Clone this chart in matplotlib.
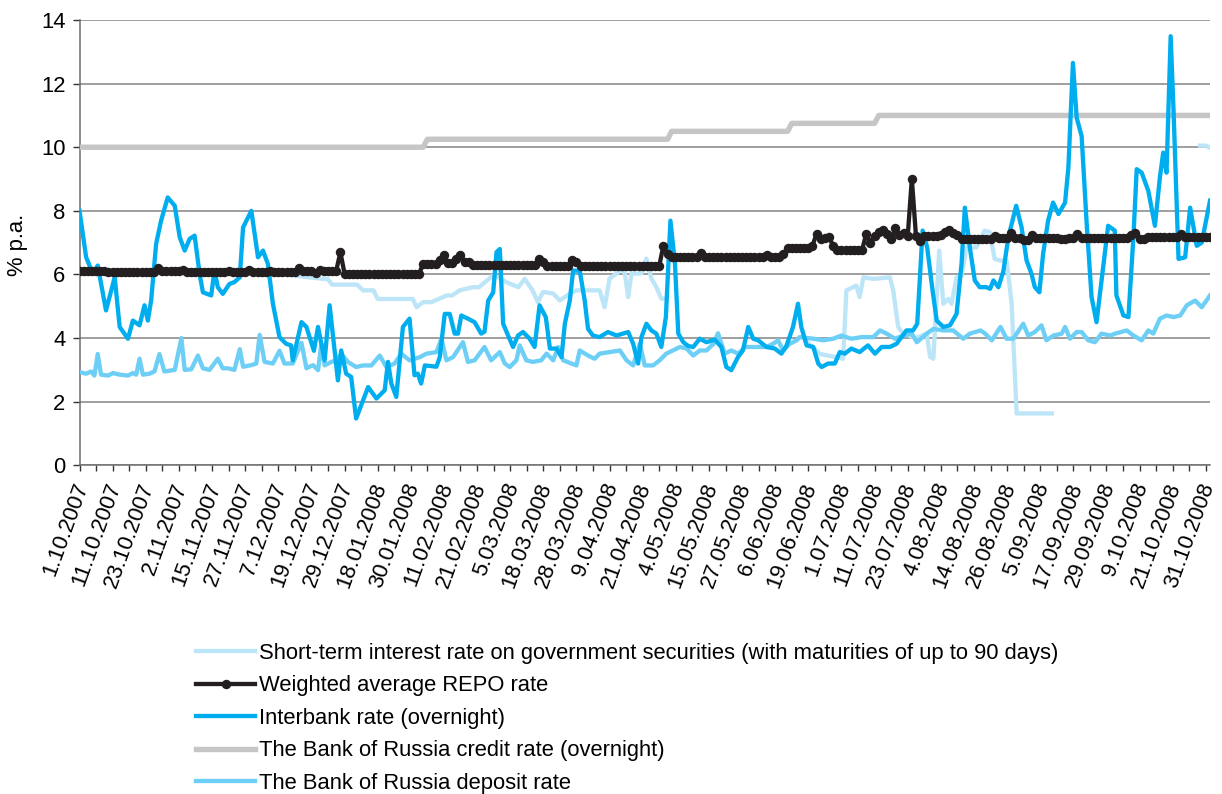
import numpy as np
import matplotlib
matplotlib.use("Agg")
import matplotlib.pyplot as plt
import matplotlib.transforms as mtransforms
from matplotlib.lines import Line2D

plt.rcParams['font.family'] = ['Liberation Sans', 'DejaVu Sans']

# ---------------- data ----------------
date_labels = ["1.10.2007", "11.10.2007", "23.10.2007", "2.11.2007", "15.11.2007",
               "27.11.2007", "7.12.2007", "19.12.2007", "29.12.2007", "18.01.2008",
               "30.01.2008", "11.02.2008", "21.02.2008", "5.03.2008", "18.03.2008",
               "28.03.2008", "9.04.2008", "21.04.2008", "4.05.2008", "15.05.2008",
               "27.05.2008", "6.06.2008", "19.06.2008", "1.07.2008", "11.07.2008",
               "23.07.2008", "4.08.2008", "14.08.2008", "26.08.2008", "5.09.2008",
               "17.09.2008", "29.09.2008", "9.10.2008", "21.10.2008", "31.10.2008"]
n_days = 274          # trading days shown (category axis)
label_every = 8       # a date label every 8 trading days

# Bank of Russia credit rate (overnight): level changes (trading-day index)
credit_start_day = [0, 84, 143, 172, 193]
credit_level = [10.0, 10.25, 10.5, 10.75, 11.0]

# Weighted average REPO rate: daily values, run-length encoded (level, number of days)
repo_level = [6.12, 6.07, 6.2, 6.1, 6.15, 6.07, 6.12, 6.07, 6.15, 6.07, 6.12, 6.07, 6.2,
              6.1, 6.05, 6.15, 6.1, 6.12, 6.7, 6.03, 6.33, 6.45, 6.6, 6.35, 6.5, 6.62,
              6.4, 6.3, 6.5, 6.4, 6.28, 6.44, 6.4, 6.27, 6.9, 6.65, 6.56, 6.68, 6.56, 6.62,
              6.56, 6.65, 6.82, 6.9, 7.28, 7.12, 7.15, 7.18, 6.9, 6.78, 7.28, 7.0, 7.2,
              7.35, 7.4, 7.28, 7.1, 7.45, 7.25, 7.3, 7.2, 9.0, 7.2, 7.05, 7.2, 7.25,
              7.35, 7.4, 7.3, 7.25, 7.1, 7.2, 7.15, 7.3, 7.15, 7.08, 7.25, 7.15, 7.1,
              7.15, 7.28, 7.15, 7.25, 7.3, 7.12, 7.17, 7.28, 7.17]
repo_days = [7, 12, 1, 5, 1, 10, 1, 4, 1, 4, 1, 6, 1,
             3, 1, 1, 3, 1, 1, 19, 4, 1, 1, 2, 1, 1,
             2, 16, 1, 1, 6, 1, 1, 20, 1, 1, 7, 1, 15, 1,
             3, 1, 6, 1, 1, 1, 1, 1, 1, 7, 1, 1, 1,
             1, 1, 1, 1, 1, 1, 1, 1, 1, 1, 1, 4, 1,
             1, 1, 1, 1, 8, 1, 3, 1, 2, 2, 1, 6, 2,
             2, 1, 12, 1, 1, 2, 8, 1, 7]

# Interbank rate (overnight): (trading-day index, % p.a.)
ib_day = [0, 1.6, 3.2, 4.4, 6.4, 8.5, 9.7, 11.7, 12.9, 14.5, 15.7, 16.5, 17.3, 18.5, 19.7,
          21.3, 23, 24.2, 25.4, 26.6, 27.8, 29, 29.8, 31.8, 32.6, 33.4, 34.6, 36.2, 37.4,
          38.7, 39.5, 41.5, 43.1, 44.3, 45.5, 46.7, 48.3, 49.9, 51.1, 51.5, 53.6, 54.8,
          56.6, 57.6, 59.2, 60.4, 62.4, 63.2, 64.4, 65.6, 66.8, 69.7, 71.7, 73.7, 74.5,
          75.3, 76.5, 78.1, 79.7, 80.9, 81.7, 82.5, 83.4, 86.2, 87, 88.2, 89.4, 90.6,
          91.4, 92.2, 93.8, 95.4, 97, 97.8, 98.7, 99.9, 100.7, 101.5, 102.3, 103.5,
          104.7, 105.9, 107.1, 108.7, 109.9, 111.1, 112.6, 113.6, 115.2, 116.4, 117.2,
          118.4, 119.2, 120.8, 122, 122.8, 124, 125.6, 127.6, 129.7, 132.5, 133.7,
          134.9, 135.7, 136.9, 138.1, 139.3, 140.5, 141.6, 142.7, 143.8, 144.6, 145.8,
          147, 148.2, 149.8, 151.4, 153.4, 155, 156.2, 157.4, 159, 160.2, 161.5, 162.7,
          163.9, 165.9, 167.9, 169.5, 170.7, 172.3, 173.5, 174.3, 175.6, 177.2, 178.4,
          179.2, 180.8, 182.4, 183.6, 184.8, 186.4, 188.4, 190.4, 192.1, 193.7, 195.7,
          197.3, 199.7, 201.3, 202.3, 203.6, 204.7, 205.9, 207, 208.6, 210.2, 211.8,
          213, 213.8, 215, 216.2, 217.4, 219, 219.9, 220.7, 221.9, 223.1, 224.3, 226.2,
          227.5, 228.7, 229.9, 230.7, 231.8, 232.7, 233.9, 235.1, 236.4, 238, 238.8,
          239.9, 240.8, 242, 243.2, 244.4, 245.6, 246.8, 248.4, 250, 250.4, 252.1,
          253.3, 254.5, 255.3, 256.5, 258.1, 259.7, 260.9, 261.7, 262.5, 263.5, 264.2,
          265.4, 267, 268.2, 269.8, 271, 273]
ib_rate = [8.0, 6.54, 6.03, 6.28, 4.87, 5.91, 4.35, 3.98, 4.55, 4.4, 5.03, 4.55, 5.18, 6.96,
           7.69, 8.42, 8.16, 7.17, 6.75, 7.12, 7.22, 6.02, 5.44, 5.34, 6.12, 5.6, 5.39, 5.7,
           5.76, 5.91, 7.48, 8.0, 6.54, 6.75, 6.33, 5.08, 4.03, 3.82, 3.77, 3.3, 4.5, 4.35,
           3.6, 4.35, 3.3, 5.03, 2.67, 3.61, 2.88, 2.78, 1.47, 2.46, 2.1, 2.36, 3.25,
           2.57, 2.15, 4.35, 4.61, 2.83, 2.88, 2.57, 3.14, 3.1, 3.4, 4.76, 4.76, 4.14,
           4.14, 4.71, 4.61, 4.5, 4.14, 4.2, 5.18, 5.44, 6.7, 6.8, 4.45, 4.08,
           3.72, 4.08, 4.19, 3.98, 3.72, 5.03, 4.66, 3.67, 3.67, 3.4, 4.45,
           5.18, 6.12, 6.12, 5.18, 4.29, 4.08, 4.03, 4.19, 4.08, 4.19, 3.82,
           3.2, 4.03, 4.45, 4.24, 4.14, 3.72, 4.66, 7.69, 6.33, 4.14, 3.87,
           3.75, 3.72, 3.98, 3.87, 3.95, 3.72, 3.09, 2.99, 3.4, 3.61, 4.35, 3.98,
           3.93, 3.72, 3.67, 3.51, 3.75, 4.35, 5.08, 4.35, 3.77, 3.72, 3.2,
           3.09, 3.2, 3.2, 3.56, 3.51, 3.67, 3.56, 3.77, 3.51, 3.72, 3.72,
           3.82, 4.24, 4.24, 4.45, 7.38, 6.85, 5.6, 4.55, 4.35, 4.4, 4.76,
           6.33, 8.1, 6.85, 5.81, 5.6, 5.6, 5.55, 5.81, 5.6, 6.1, 7.17, 8.16,
           7.48, 6.44, 6.02, 5.6, 5.44, 6.65, 7.69, 8.26, 7.9, 8.26, 9.36,
           12.65, 10.93, 10.35, 7.64, 5.29, 4.5, 5.81, 7.53, 7.38, 5.34, 4.71,
           4.66, 7.17, 9.31, 9.2, 8.63, 7.53, 9.05, 9.83, 9.2, 13.49, 11.14,
           6.49, 6.54, 8.1, 6.9, 7.0, 8.32]

# Short-term rate on government securities: None marks days without data
gov_day = [0, 30, 50, 56, 60, 61, 67, 68.5, 71, 72, 80.5, 81.4, 83, 85, 88.7, 90, 91.8, 95,
           96.5, 98.3, 99.8, 101.5, 103, 106, 107.5, 109.4, 110.7, 111.9, 114.4, 116,
           118.4, 120, 125.6, 126.8, 128, 129.7, 130.9, 131.7, 132.5, 133.3, 135.7,
           136.9, 138.1, 139.3, 140.5, 141.2,
           158,
           175.5, 177.2, 178.8, 182.8, 184.4, 185.2, 187.6, 188.4, 189.3, 191.7, 195.7,
           196.5, 197.7, 198.9, 202, 204.6, 205.4, 206.2, 207.6, 208.6, 209.8, 210.6,
           211.8, 213, 214.2, 216.6, 218.6, 219.8, 221, 222.3, 223.9, 225.1, 226.3,
           234.8,
           250,
           270.6, 272, 273]
gov_rate = [6.05, 6.05, 6.0, 5.9, 5.85, 5.68, 5.68, 5.5, 5.5, 5.23, 5.23, 4.97, 5.13, 5.13,
            5.34, 5.34, 5.5, 5.6, 5.6, 5.8, 5.96, 5.9, 5.76, 5.6, 5.86, 5.5, 5.13, 5.45,
            5.4, 5.18, 5.4, 5.5, 5.5, 4.97, 5.87, 6.03, 6.18, 6.03, 5.29, 6.03, 6.03,
            6.5, 5.87, 5.6, 5.24, 5.24,
            None,
            3.9, 3.7, 3.5, 3.4, 3.35, 5.5, 5.65, 5.29, 5.91, 5.86, 5.91,
            5.5, 4.35, 4.14, 4.0, 4.14, 3.41, 3.35, 6.75, 5.08, 5.23, 5.08,
            5.91, 5.95, 6.85, 6.85, 7.38, 7.33, 6.49, 6.44, 6.44, 5.08, 1.63,
            1.63,
            None,
            10.05, 10.05, 9.98]

# Bank of Russia deposit rate
dep_day = [0, 1.6, 2.8, 3.6, 4.4, 5.2, 6.9, 8.1, 9.7, 11.7, 12.9, 13.7, 14.5, 15.3, 16.9,
           18.1, 19.3, 20.5, 23, 24.6, 25.4, 27, 28.6, 29.8, 31.4, 33.4, 34.6, 35.8, 37.4,
           38.7, 39.5, 41.5, 42.7, 43.5, 44.7, 46.7, 48.3, 49.5, 51.5, 53.6, 54.8, 56.4,
           57.6, 58.4, 59.2, 60.8, 62, 63.2, 64.8, 66.8, 68.5, 70.5, 72.5, 74.1, 76.1,
           77.7, 79.7, 82.2, 83.8, 86.2, 87.4, 88.6, 90.2, 92.6, 93.8, 95.4, 97.8, 99.4,
           101.5, 102.7, 103.9, 105.5, 106.3, 107.9, 109.5, 111.5, 112.8, 114.4, 115.6,
           116.8, 118.8, 120, 120.8, 122.8, 124.4, 125.6, 128, 130.5, 132.1, 133.7,
           135.3, 136.5, 138.5, 140.1, 141.7, 143.3, 145, 146.6, 148.2, 149.8, 151.4,
           153.1, 154.2, 155.8, 157.4, 159.1, 160.7, 162.7, 164.3, 165.9, 167.5, 168.7,
           169.9, 171.5, 173.2, 173.9, 177.2, 179.6, 182, 184, 186.4, 188.9, 191.7,
           193.3, 194.9, 196.9, 199, 201, 202.2, 204.6, 206.2, 208.6, 211, 213.4, 215,
           217.6, 218.7, 220.3, 222.4, 223.9, 225.5, 227.9, 229.1, 230.7, 232.3, 233.5,
           235.2, 237.2, 238, 239.2, 240.8, 242, 243.6, 245.2, 246.8, 248.9, 250.1,
           252.9, 254.5, 256.5, 258.1, 259.3, 260.9, 262.5, 264.2, 265.8, 267.4, 269.4,
           271, 273]
dep_rate = [2.93, 2.88, 2.95, 2.82, 3.5, 2.85, 2.82, 2.9, 2.85, 2.82, 2.9, 2.85, 3.35, 2.85,
            2.88, 2.95, 3.5, 2.95, 3.0, 4.0, 3.0, 3.02, 3.45, 3.05, 3.0, 3.35, 3.05, 3.05,
            3.0, 3.65, 3.1, 3.15, 3.2, 4.1, 3.25, 3.2, 3.6, 3.2, 3.2, 3.85, 3.05, 3.15,
            2.99, 3.82, 3.14, 3.25, 3.3, 3.51, 3.25, 3.09, 3.14, 3.14, 3.45, 3.09, 3.2,
            3.51, 3.3, 3.4, 3.51, 3.56, 3.98, 3.3, 3.4, 3.87, 3.25, 3.3, 3.72, 3.3,
            3.56, 3.2, 3.09, 3.3, 3.77, 3.3, 3.25, 3.3, 3.51, 3.3, 3.72,
            3.3, 3.2, 3.14, 3.61, 3.45, 3.35, 3.51, 3.56, 3.61, 3.3, 3.14,
            3.82, 3.14, 3.14, 3.3, 3.51, 3.61, 3.72, 3.67, 3.45, 3.61, 3.61,
            3.82, 4.15, 3.51, 3.61, 3.51, 3.72, 3.72, 3.72, 3.72, 3.82, 3.93,
            3.61, 3.82, 3.93, 4.03, 3.98, 3.93, 3.98, 4.08, 3.98, 4.03, 4.03,
            4.24, 4.14, 3.98, 4.08, 4.14, 3.87, 4.14, 4.29, 4.24, 4.24, 3.98, 4.14,
            4.24, 4.14, 3.93, 4.35, 3.98, 3.98, 4.45, 4.08, 4.19, 4.4, 3.93,
            4.08, 4.14, 4.35, 3.98, 4.19, 4.19, 3.93, 3.87, 4.14, 4.08, 4.14,
            4.24, 4.08, 3.93, 4.24, 4.14, 4.61, 4.71, 4.66, 4.71, 5.03, 5.18,
            4.97, 5.34]

legend_labels = ["Short-term interest rate on government securities (with maturities of up to 90 days)",
                 "Weighted average REPO rate",
                 "Interbank rate (overnight)",
                 "The Bank of Russia credit rate (overnight)",
                 "The Bank of Russia deposit rate"]

# ---------------- derived daily series ----------------
days = np.arange(n_days)
credit_daily = np.repeat(credit_level, np.diff(credit_start_day + [n_days]))
repo_daily = np.repeat(repo_level, repo_days)
gov_y = np.array([np.nan if v is None else v for v in gov_rate], dtype=float)

# ---------------- styling ----------------
c_gov = '#bde5f8'
c_repo = '#231f20'
c_ib = '#00aeef'
c_credit = '#c6c6c7'
c_dep = '#6dcff6'
lw = 3.1
FS = 15.8

W, H = 1222, 794
fig = plt.figure(figsize=(W / 100, H / 100), dpi=100)
x0, x1, ytop, ybot = 79.5, 1210, 20, 465.3
ax = fig.add_axes([x0 / W, 1 - ybot / H, (x1 - x0) / W, (ybot - ytop) / H])

ax.plot(gov_day, gov_y, color=c_gov, lw=lw, zorder=2, solid_joinstyle='round')
ax.plot(days, credit_daily, color=c_credit, lw=lw + 0.8, zorder=3)
ax.plot(dep_day, dep_rate, color=c_dep, lw=lw, zorder=4, solid_joinstyle='round')
ax.plot(ib_day, ib_rate, color=c_ib, lw=lw, zorder=5, solid_joinstyle='round')
ax.plot(days, repo_daily, color=c_repo, lw=lw, marker='o', ms=6.8,
        markeredgewidth=0, zorder=6)

ax.set_xlim(0, n_days - 1)
ax.set_ylim(0, 14)
ax.set_yticks(np.arange(0, 15, 2))
ax.set_yticklabels([str(v) for v in range(0, 15, 2)], fontsize=FS)
ax.yaxis.grid(True, color='#858585', lw=1.1, zorder=0)
ax.set_axisbelow(True)

major = np.arange(0, n_days, label_every)
ax.set_xticks(major)
ax.set_xticklabels(date_labels, rotation=70, ha='right', va='center',
                   rotation_mode='anchor', fontsize=FS)
ax.set_xticks(np.arange(4, n_days, label_every), minor=True)
ax.tick_params(axis='x', which='both', direction='out', length=4.5, width=1.0,
               color='#333333', pad=8.5)
ax.tick_params(axis='y', direction='out', length=5, width=1.0, color='#333333', pad=5)
shift = mtransforms.ScaledTranslation(3 / 100, 0, fig.dpi_scale_trans)
for lab in ax.get_xticklabels():
    lab.set_transform(lab.get_transform() + shift)

for s in ['top', 'right']:
    ax.spines[s].set_visible(False)
for s in ['left', 'bottom']:
    ax.spines[s].set_color('#6e6e6e')
    ax.spines[s].set_linewidth(1.1)

fig.text(18 / W, 1 - 245 / H, '% p.a.', rotation=90, ha='center', va='center', fontsize=FS)

handles = [Line2D([], [], color=c_gov, lw=lw),
           Line2D([], [], color=c_repo, lw=lw, marker='o', ms=6.8, markeredgewidth=0),
           Line2D([], [], color=c_ib, lw=lw),
           Line2D([], [], color=c_credit, lw=lw + 0.8),
           Line2D([], [], color=c_dep, lw=lw)]
fig.legend(handles, legend_labels, loc='upper left', bbox_to_anchor=(196 / W, 1 - 643 / H),
           frameon=False, fontsize=FS, handlelength=2.7, handletextpad=0.18,
           labelspacing=0.52, borderpad=0, borderaxespad=0)

fig.savefig('out.png', dpi=100)
